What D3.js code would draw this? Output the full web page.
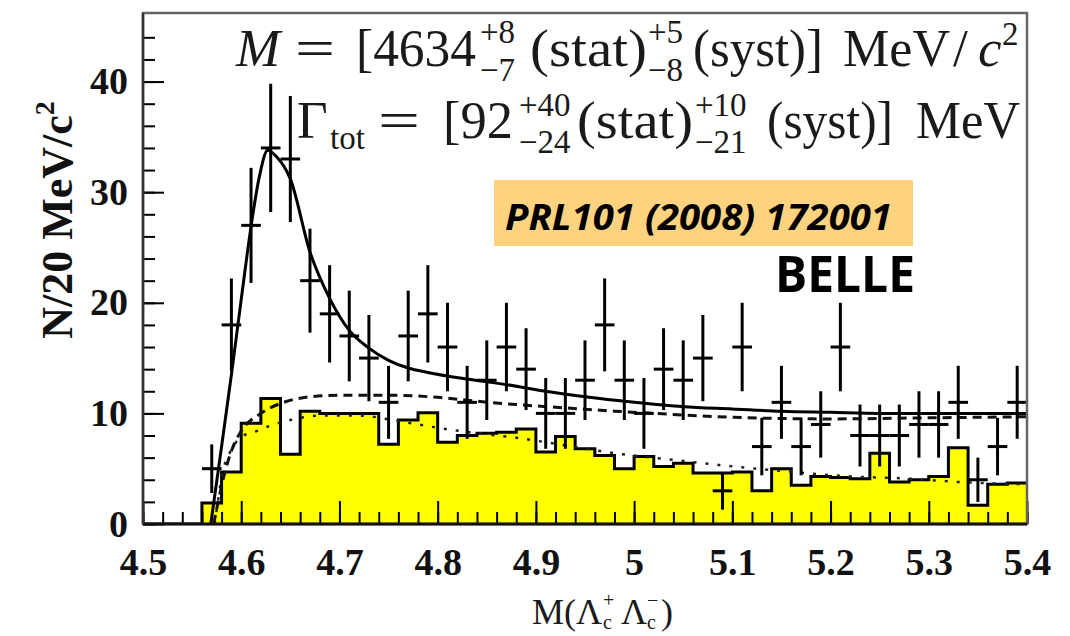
<!DOCTYPE html>
<html>
<head>
<meta charset="utf-8">
<script src="https://cdn.jsdelivr.net/npm/d3@7"></script>
<style>
  body { margin: 0; background: #fff; }
  svg { display: block; }
</style>
</head>
<body>
<svg id="chart" width="1070" height="636"></svg>
<script>
// ---- measured spectrum: M(Lambda_c+ Lambda_c-) in 20 MeV/c^2 bins ----
const pointMass = [4.57, 4.59, 4.61, 4.63, 4.65, 4.67, 4.69, 4.71, 4.73, 4.75,
                   4.77, 4.79, 4.81, 4.83, 4.85, 4.87, 4.89, 4.91, 4.93, 4.95,
                   4.97, 4.99, 5.01, 5.03, 5.05, 5.07, 5.09, 5.11, 5.13, 5.15,
                   5.17, 5.19, 5.21, 5.23, 5.25, 5.27, 5.29, 5.31, 5.33, 5.35,
                   5.37, 5.39];
const pointCounts = [5, 18, 27, 34, 33, 22, 19, 17, 15, 11,
                     17, 19, 16, 11, 13, 16, 14, 10, 10, 13,
                     18, 13, 10, 14, 13, 15, 3, 16, 7, 11,
                     7, 9, 16, 8, 8, 8, 9, 9, 11, 4,
                     7, 11];
const pointErrors = [2.2, 4.2, 5.2, 5.8, 5.7, 4.7, 4.4, 4.1, 3.9, 3.3,
                     4.1, 4.4, 4.0, 3.3, 3.6, 4.0, 3.7, 3.2, 3.2, 3.6,
                     4.2, 3.6, 3.2, 3.7, 3.6, 3.9, 1.7, 4.0, 2.6, 3.3,
                     2.6, 3.0, 4.0, 2.8, 2.8, 2.8, 3.0, 3.0, 3.3, 2.0,
                     2.6, 3.3];

// ---- background histogram (lower bin edges and contents) ----
const histLowEdge = [4.50, 4.52, 4.54, 4.56, 4.58, 4.60, 4.62, 4.64, 4.66, 4.68,
                     4.70, 4.72, 4.74, 4.76, 4.78, 4.80, 4.82, 4.84, 4.86, 4.88,
                     4.90, 4.92, 4.94, 4.96, 4.98, 5.00, 5.02, 5.04, 5.06, 5.08,
                     5.10, 5.12, 5.14, 5.16, 5.18, 5.20, 5.22, 5.24, 5.26, 5.28,
                     5.30, 5.32, 5.34, 5.36, 5.38];
const histContent = [0, 0, 0, 1.9, 4.7, 9.1, 11.35, 6.3, 10.2, 10.0,
                     10.0, 10.0, 7.2, 9.4, 10.05, 7.4, 8.0, 8.2, 8.3, 8.6,
                     6.5, 7.9, 6.8, 6.2, 5.0, 6.1, 5.2, 5.5, 4.6, 4.6,
                     4.7, 3.0, 5.0, 3.5, 4.3, 4.2, 4.1, 6.4, 3.8, 4.0,
                     4.3, 6.9, 1.7, 3.6, 3.7];
const histUpperEdge = 5.40;

// ---- fit curves (mass, N) ----
const fitTotalMass = [4.569, 4.580, 4.590, 4.600, 4.610, 4.618, 4.627, 4.636, 4.650, 4.670,
                      4.690, 4.710, 4.730, 4.750, 4.770, 4.790, 4.830, 4.870, 4.910, 4.950,
                      5.000, 5.050, 5.100, 5.150, 5.200, 5.250, 5.300, 5.400];
const fitTotalN    = [0, 7.0, 13.5, 20.3, 26.9, 31.2, 33.8, 33.2, 31.2, 24.6,
                      20.4, 17.5, 15.9, 14.8, 14.1, 13.7, 13.1, 12.6, 12.0, 11.5,
                      11.0, 10.6, 10.4, 10.2, 10.1, 10.0, 10.0, 10.0];

const fitBkgMass = [4.572, 4.582, 4.590, 4.600, 4.620, 4.645, 4.670, 4.700, 4.750, 4.800,
                    4.840, 4.880, 4.930, 4.980, 5.020, 5.100, 5.200, 5.300, 5.400];
const fitBkgN    = [0, 4.2, 6.6, 8.4, 10.0, 11.05, 11.5, 11.65, 11.65, 11.45,
                    11.1, 10.8, 10.5, 10.2, 10.0, 9.65, 9.5, 9.6, 9.7];

const fitHistMass = [4.573, 4.582, 4.590, 4.600, 4.613, 4.627, 4.650, 4.680, 4.720, 4.760,
                     4.800, 4.850, 4.880, 4.930, 4.980, 5.040, 5.090, 5.150, 5.220, 5.280,
                     5.330, 5.400];
const fitHistN    = [0, 5.0, 6.7, 7.9, 8.3, 8.8, 9.4, 9.8, 9.8, 9.3,
                     8.7, 8.1, 7.8, 7.1, 6.4, 5.8, 5.3, 4.8, 4.3, 4.1,
                     3.8, 3.6];

// ---- axes ----
const xMajorTicks = [4.5, 4.6, 4.7, 4.8, 4.9, 5.0, 5.1, 5.2, 5.3, 5.4];
const xTickLabels = ["4.5", "4.6", "4.7", "4.8", "4.9", "5", "5.1", "5.2", "5.3", "5.4"];
const yMajorTicks = [0, 10, 20, 30, 40];
const yTickLabels = ["0", "10", "20", "30", "40"];

const svg = d3.select("#chart");
const plot = { left: 143, right: 1027, top: 13, bottom: 524 };

const x = d3.scaleLinear().domain([4.5, 5.4]).range([plot.left, plot.right]);
const y = d3.scaleLinear().domain([0, 46.2]).range([plot.bottom, plot.top]);

svg.append("defs").append("clipPath").attr("id", "plotClip")
  .append("rect")
  .attr("x", plot.left).attr("y", plot.top)
  .attr("width", plot.right - plot.left).attr("height", plot.bottom - plot.top);

const inner = svg.append("g").attr("clip-path", "url(#plotClip)");

// histogram: yellow fill and black step outline
const histPts = histLowEdge.map((e, i) => ({ m: e, n: histContent[i] }));
histPts.push({ m: histUpperEdge, n: histContent[histContent.length - 1] });

inner.append("path")
  .datum(histPts)
  .attr("d", d3.area().curve(d3.curveStepAfter)
    .x(d => x(d.m)).y0(y(0)).y1(d => y(d.n)))
  .attr("fill", "#ffff00");

inner.append("path")
  .datum(histPts)
  .attr("d", d3.line().curve(d3.curveStepAfter)
    .x(d => x(d.m)).y(d => y(d.n)))
  .attr("fill", "none")
  .attr("stroke", "#000")
  .attr("stroke-width", 3);

// ticks (pointing into the frame)
const xMinorTicks = d3.range(0, 46).map(i => 4.5 + i * 0.02);
const yMinorTicks = d3.range(0, 23).map(i => i * 2);

const xAxisMinor = svg.append("g")
  .attr("transform", `translate(0,${plot.bottom})`)
  .call(d3.axisBottom(x).tickValues(xMinorTicks).tickSize(-12).tickFormat(""));
const xAxisMajor = svg.append("g")
  .attr("transform", `translate(0,${plot.bottom})`)
  .call(d3.axisBottom(x).tickValues(xMajorTicks).tickSize(-23).tickPadding(24)
    .tickFormat((d, i) => xTickLabels[i]));
const yAxisMinor = svg.append("g")
  .attr("transform", `translate(${plot.left},0)`)
  .call(d3.axisLeft(y).tickValues(yMinorTicks).tickSize(-12).tickFormat(""));
const yAxisMajor = svg.append("g")
  .attr("transform", `translate(${plot.left},0)`)
  .call(d3.axisLeft(y).tickValues(yMajorTicks).tickSize(-21).tickPadding(15)
    .tickFormat((d, i) => yTickLabels[i]));

[xAxisMinor, xAxisMajor, yAxisMinor, yAxisMajor].forEach(g => {
  g.select(".domain").remove();
  g.selectAll(".tick line").attr("stroke", "#000").attr("stroke-width", 2);
});
[xAxisMajor, yAxisMajor].forEach(g => {
  g.attr("font-family", null);
  g.selectAll(".tick text")
    .style("font-family", "'Liberation Serif', 'Times New Roman', serif")
    .attr("font-weight", "bold")
    .attr("font-size", 38)
    .attr("fill", "#111");
});

// fit curves
const curveLine = d3.line().curve(d3.curveMonotoneX).x(d => x(d[0])).y(d => y(d[1]));

inner.append("path")
  .datum(d3.zip(fitHistMass, fitHistN))
  .attr("d", curveLine)
  .attr("fill", "none")
  .attr("stroke", "#222")
  .attr("stroke-width", 2.5)
  .attr("stroke-dasharray", "3,9");

inner.append("path")
  .datum(d3.zip(fitBkgMass, fitBkgN))
  .attr("d", curveLine)
  .attr("fill", "none")
  .attr("stroke", "#111")
  .attr("stroke-width", 3)
  .attr("stroke-dasharray", "9,6");

inner.append("path")
  .datum(d3.zip(fitTotalMass, fitTotalN))
  .attr("d", curveLine)
  .attr("fill", "none")
  .attr("stroke", "#000")
  .attr("stroke-width", 3);

// data points with error bars
const pts = pointMass.map((m, i) => ({ m, n: pointCounts[i], e: pointErrors[i] }));
const ptG = inner.append("g").attr("stroke", "#000").attr("stroke-width", 3);
ptG.selectAll("line.err").data(pts).join("line")
  .attr("class", "err")
  .attr("x1", d => x(d.m)).attr("x2", d => x(d.m))
  .attr("y1", d => y(d.n - d.e)).attr("y2", d => y(d.n + d.e));
ptG.selectAll("line.bar").data(pts).join("line")
  .attr("class", "bar")
  .attr("x1", d => x(d.m - 0.01)).attr("x2", d => x(d.m + 0.01))
  .attr("y1", d => y(d.n)).attr("y2", d => y(d.n));

// frame
svg.append("rect")
  .attr("x", plot.left).attr("y", plot.top)
  .attr("width", plot.right - plot.left).attr("height", plot.bottom - plot.top)
  .attr("fill", "none").attr("stroke", "#666").attr("stroke-width", 2.5);
svg.append("line")
  .attr("x1", plot.left).attr("x2", plot.right)
  .attr("y1", plot.bottom).attr("y2", plot.bottom)
  .attr("stroke", "#111").attr("stroke-width", 3);
svg.append("line")
  .attr("x1", plot.left).attr("x2", plot.left)
  .attr("y1", plot.top).attr("y2", plot.bottom)
  .attr("stroke", "#333").attr("stroke-width", 2.5);

// ---- annotation text ----
const serif = "'Liberation Serif', 'Times New Roman', serif";
function put(xp, yp, str, size, opts = {}) {
  const t = svg.append("text")
    .attr("x", xp).attr("y", yp)
    .attr("font-family", opts.family || serif)
    .attr("font-size", size)
    .attr("font-style", opts.italic ? "italic" : "normal")
    .attr("font-weight", opts.bold ? "bold" : "normal")
    .attr("fill", opts.fill || "#1a1a1a")
    .text(str);
  if (opts.width) t.attr("textLength", opts.width).attr("lengthAdjust", "spacingAndGlyphs");
  return t;
}

// mass result
put(236, 66, "M", 53, { italic: true });
put(295, 66, "=", 53, { width: 40 });
put(356, 66, "[4634", 53, { width: 120 });
put(480, 43, "+8", 33);
put(480, 81, "\u22127", 33);
put(530, 66, "(stat)", 53, { width: 117 });
put(648, 43, "+5", 33);
put(648, 81, "\u22128", 33);
put(693, 66, "(syst)]", 53, { width: 130 });
put(843, 66, "MeV", 53, { width: 107 });
put(953, 66, "/", 53);
put(978, 66, "c", 53, { italic: true });
put(1002, 45, "2", 33);

// width result
put(297, 138, "\u0393", 53);
put(330, 149, "tot", 33);
put(378, 138, "=", 53, { width: 42 });
put(443, 138, "[92", 53, { width: 70 });
put(519, 116, "+40", 33);
put(519, 153, "\u221224", 33);
put(577, 138, "(stat)", 53, { width: 116 });
put(695, 116, "+10", 33);
put(695, 153, "\u221221", 33);
put(767, 138, "(syst)]", 53, { width: 126 });
put(916, 138, "MeV", 53, { width: 104 });

// reference tag and experiment name
svg.append("rect")
  .attr("x", 494).attr("y", 180).attr("width", 419).attr("height", 66)
  .attr("fill", "#fdd37f");
put(505, 230, "PRL101 (2008) 172001", 36,
    { family: "'Open Sans', 'Lato', sans-serif", bold: true, italic: true, fill: "#000", width: 387 });
put(775, 292, "BELLE", 50,
    { family: "'Open Sans', 'Lato', sans-serif", bold: true, fill: "#000", width: 140 });

// y-axis title
const yTitle = svg.append("text")
  .attr("transform", "translate(72,220) rotate(-90)")
  .attr("text-anchor", "middle")
  .attr("font-family", serif)
  .attr("font-weight", "bold")
  .attr("font-size", 44)
  .attr("fill", "#111");
yTitle.append("tspan").text("N/20 MeV/c");
yTitle.append("tspan").attr("font-size", 28).attr("dy", -18).text("2");

// x-axis title
put(532, 624, "M(\u039B", 36);
put(603, 629, "c", 20);
put(603, 607, "+", 20);
put(621, 624, "\u039B", 36);
put(647, 629, "c", 20);
put(647, 607, "\u2212", 20);
put(661, 624, ")", 36);
</script>
</body>
</html>
